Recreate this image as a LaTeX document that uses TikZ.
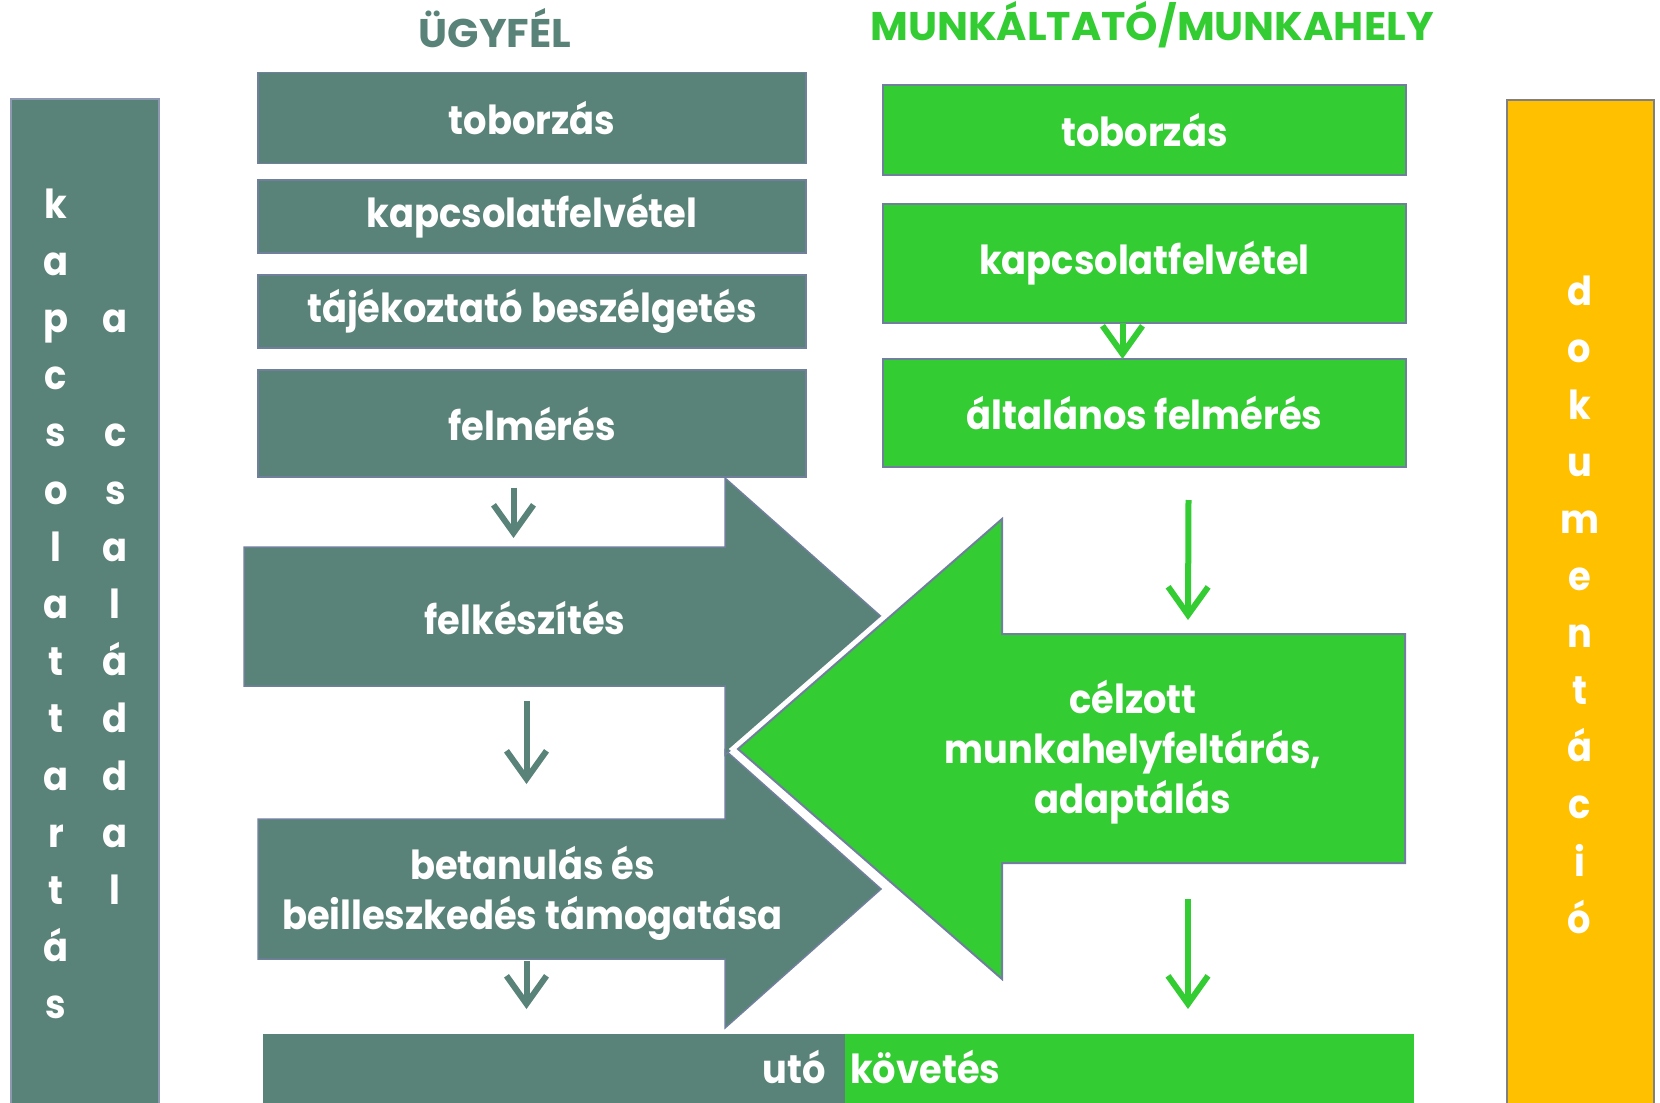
\documentclass[tikz,border=0pt]{standalone}
\usepackage{fontspec}
\setmainfont{Poppins}[FakeStretch=0.92]
\newfontfamily\cimfont{Poppins}[FakeStretch=1.03]
\usetikzlibrary{arrows.meta}

\definecolor{ugyfel}{RGB}{89,130,120}
\definecolor{munka}{RGB}{51,204,51}
\definecolor{doku}{RGB}{255,192,0}
\definecolor{keret}{RGB}{112,128,156}

\newcommand{\dobozbetu}{\fontsize{40}{50}\selectfont\bfseries}
\newcommand{\cimbetu}{\cimfont\fontsize{40}{44}\selectfont\bfseries}

\begin{document}
\begin{tikzpicture}[x=1pt, y=-1pt,
    tdoboz/.style={fill=ugyfel, draw=keret, line width=1.5pt, minimum width=548pt, inner sep=0pt, outer sep=0pt, text=white, font=\dobozbetu},
    gdoboz/.style={fill=munka, draw=keret, line width=2pt, minimum width=523pt, inner sep=0pt, outer sep=0pt, text=white, font=\dobozbetu},
    test/.style={inner sep=0pt, outer sep=0pt},
    felirat/.style={text=white, font=\dobozbetu, align=center, inner sep=0pt},
    betu/.style={text=white, font=\dobozbetu, anchor=base, inner sep=0pt},
    tnyil/.style={draw=ugyfel, line width=6pt, -{Straight Barb[length=28pt, width=40pt]}},
    gnyil/.style={draw=munka, line width=6pt, -{Straight Barb[length=28pt, width=40pt]}}]
    \fill[white] (0,0) rectangle (1660,1103);
    \useasboundingbox (0,0) rectangle (1660,1103);

    % oldalso savok
    \node[test, fill=ugyfel, draw=keret!80, line width=2pt, minimum width=148pt, minimum height=1020pt] (kapcs) at (84.8,608.5) {};
    \node[test, fill=doku, draw=gray, line width=2pt, minimum width=147pt, minimum height=1018pt] (doku) at (1580,608.5) {};
    \foreach \b [count=\i from 0] in {k,a,p,c,s,o,l,a,t,t,a,r,t,á,s} {
        \node[betu] (ka\i) at (56,218+57.2*\i) {\b};
    }
    \foreach \b/\r in {a/2,c/4,s/5,a/6,l/7,á/8,d/9,d/10,a/11,l/12} {
        \node[betu] (cs\r) at (115.4,218+57.2*\r) {\b};
    }
    \foreach \b [count=\i from 0] in {d,o,k,u,m,e,n,t,á,c,i,ó} {
        \node[betu] (do\i) at (1579.6,305+57.1*\i) {\b};
    }

    \node[font=\cimbetu, text=ugyfel, anchor=base] (ugy) at (495,47) {ÜGYFÉL};
    \node[font=\cimbetu, text=munka, anchor=base] (mun) at (1152,40) {MUNKÁLTATÓ/MUNKAHELY};

    \node[tdoboz, minimum height=91pt] (tbor) at (532,118) {toborzás};
    \node[tdoboz, minimum height=73pt] (tkap) at (532,216.3) {kapcsolatfelvétel};
    \node[tdoboz, minimum height=73pt] (ttaj) at (532,311.5) {tájékoztató beszélgetés};
    \node[tdoboz, minimum height=107pt] (tfel) at (532,423.5) {felmérés};

    \node[gdoboz, minimum height=90pt] (gbor) at (1144.5,129.8) {toborzás};
    \node[gdoboz, minimum height=119pt] (gkap) at (1144.5,263.3) {kapcsolatfelvétel};
    \node[gdoboz, minimum height=108pt] (galt) at (1144.5,413) {általános felmérés};

    % nagy nyilak
    \node[test, minimum width=481pt, minimum height=139pt] (felk) at (484.5,616.5) {};
    \node[test, minimum width=467pt, minimum height=140pt] (beta) at (491.5,889) {};
    \filldraw[fill=ugyfel, draw=keret, line width=1.5pt] (beta.north west) -- (beta.north east) -- ++(0,-69) -- ++(156,139) -- ++(-156,139) -- (beta.south east) -- (beta.south west) -- cycle;
    \filldraw[fill=ugyfel, draw=keret, line width=1.5pt] (felk.north west) -- (felk.north east) -- ++(0,-69) -- ++(156,138.5) -- ++(-156,138.5) -- (felk.south east) -- (felk.south west) -- cycle;
    \node[felirat] (felkt) at (525,618) {felkészítés};
    \node[felirat] (betat) at (532.5,893) {betanulás és\\beilleszkedés támogatása};

    \node[test, minimum width=403pt, minimum height=229pt] (gcel) at (1203.5,748.5) {};
    \filldraw[fill=munka, draw=keret, line width=2pt, preaction={draw=white, line width=12pt}] (gcel.north east) -- (gcel.south east) -- (gcel.south west) -- ++(0,116) -- ++(-264,-230) -- ++(264,-230) -- (gcel.north west) -- cycle;
    \node[felirat] (gcelt) at (1133,752) {célzott\\munkahelyfeltárás,\\adaptálás};

    \node[test, fill=ugyfel, minimum width=582.4pt, minimum height=80pt] (uto) at (553.8,1074) {};
    \node[test, fill=munka, minimum width=569pt, minimum height=80pt] (kov) at (1129.5,1074) {};
    \node[betu, anchor=base east] (utot) at (826,1083) {utó};
    \node[betu, anchor=base west] (kovt) at (850,1083) {követés};

    \draw[tnyil] ([xshift=-18.5pt,yshift=-10.5pt]tfel.south) -- ([xshift=29pt,yshift=9pt]felk.north);
    \draw[tnyil] ([xshift=42pt,yshift=-15pt]felk.south) -- ([xshift=35pt,yshift=35pt]beta.north);
    \draw[tnyil] ([xshift=35pt,yshift=-2pt]beta.south) -- ([xshift=-27.3pt,yshift=25pt]uto.north);
    \draw[gnyil] ([xshift=-22pt]gkap.south) -- ([xshift=-22pt]galt.north);
    \draw[gnyil] ([xshift=44pt,yshift=-33pt]galt.south) -- ([xshift=-15.5pt,yshift=14pt]gcel.north);
    \draw[gnyil] ([xshift=-15.5pt,yshift=-36pt]gcel.south) -- ([xshift=58.5pt,yshift=25pt]kov.north);
\end{tikzpicture}
\end{document}
